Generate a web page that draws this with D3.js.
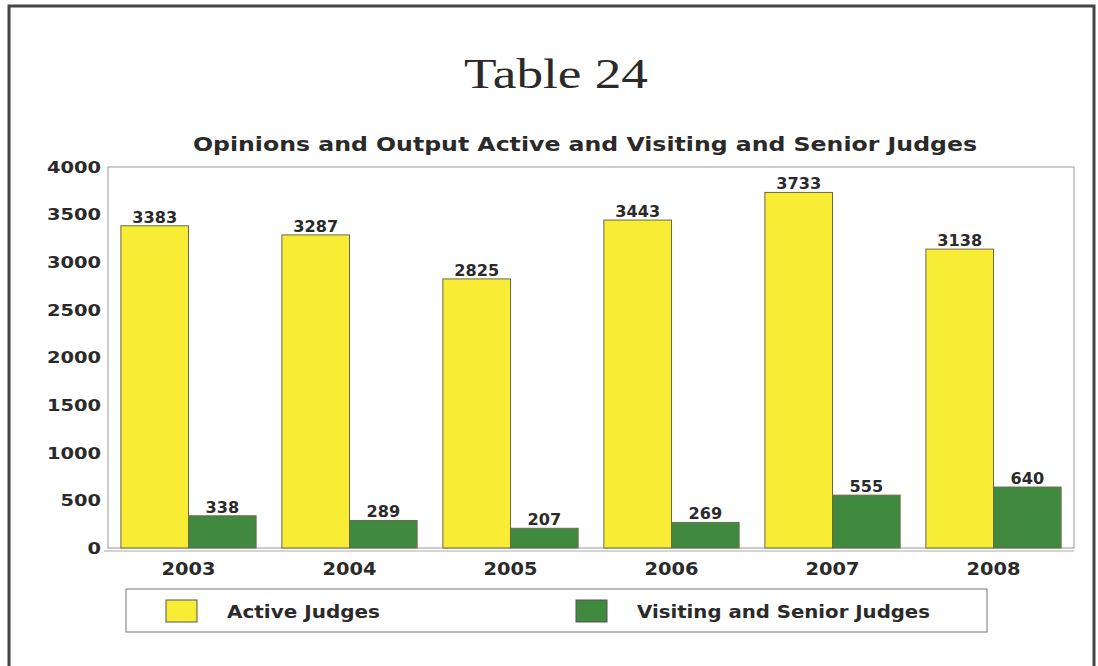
<!DOCTYPE html>
<html>
<head>
<meta charset="utf-8">
<script src="https://cdn.jsdelivr.net/npm/d3@7"></script>
<style>
  body { margin: 0; background: #fff; }
  svg text { font-family: "DejaVu Sans", "Liberation Sans", Arial, sans-serif; fill: #2a2a2a; }
</style>
</head>
<body>
<div id="chart"></div>
<script>
const years = ['2003', '2004', '2005', '2006', '2007', '2008'];
const activeJudges = [3383, 3287, 2825, 3443, 3733, 3138];
const visitingJudges = [338, 289, 207, 269, 555, 640];
const seriesNames = ['Active Judges', 'Visiting and Senior Judges'];
const seriesColors = ['#f8ec34', '#3f8a3f'];
const yTicks = [0, 500, 1000, 1500, 2000, 2500, 3000, 3500, 4000];

const width = 1098;
const height = 666;
const margin = {top: 167, right: 24, bottom: 118, left: 108};

// the scanned font is very wide, so text gets stretched to its measured width
const stretch = (sel, len) => sel.attr('textLength', len).attr('lengthAdjust', 'spacingAndGlyphs');

const svg = d3.select('#chart').append('svg')
    .attr('width', width).attr('height', height);

// outer frame
svg.append('rect')
    .attr('x', 9).attr('y', 6)
    .attr('width', 1085).attr('height', 680)
    .attr('fill', 'none').attr('stroke', '#444').attr('stroke-width', 3);

svg.append('text')
    .attr('x', 556).attr('y', 88)
    .attr('text-anchor', 'middle')
    .style('font-family', '"Liberation Serif", "Times New Roman", serif')
    .style('font-size', '43px')
    .call(stretch, 184)
    .text('Table 24');

svg.append('text')
    .attr('x', 585).attr('y', 151)
    .attr('text-anchor', 'middle')
    .style('font-size', '19px').style('font-weight', 'bold')
    .call(stretch, 784)
    .text('Opinions and Output Active and Visiting and Senior Judges');

const x0 = d3.scaleBand()
    .domain(years)
    .range([margin.left, width - margin.right])
    .paddingInner(0.16)
    .paddingOuter(0.08);

const x1 = d3.scaleBand()
    .domain([0, 1])
    .range([0, x0.bandwidth()]);

const y = d3.scaleLinear()
    .domain([0, 4000])
    .range([height - margin.bottom, margin.top]);

// plot frame
svg.append('rect')
    .attr('x', margin.left).attr('y', margin.top)
    .attr('width', width - margin.right - margin.left)
    .attr('height', y(0) - margin.top)
    .attr('fill', 'none').attr('stroke', '#999').attr('stroke-width', 1);

svg.append('line')
    .attr('x1', margin.left - 4).attr('x2', width - margin.right)
    .attr('y1', y(0) + 3).attr('y2', y(0) + 3)
    .attr('stroke', '#aaa').attr('stroke-width', 1);

// y axis labels
svg.append('g').selectAll('text').data(yTicks).join('text')
    .attr('x', 101).attr('y', (d) => y(d))
    .attr('dy', '0.36em')
    .attr('text-anchor', 'end')
    .style('font-size', '16px').style('font-weight', 'bold')
    .attr('textLength', (d) => String(d).length * 13.5)
    .attr('lengthAdjust', 'spacingAndGlyphs')
    .text((d) => d);

// x axis labels
svg.append('g').selectAll('text').data(years).join('text')
    .attr('x', (d) => x0(d) + x0.bandwidth() / 2)
    .attr('y', 575)
    .attr('text-anchor', 'middle')
    .style('font-size', '17px').style('font-weight', 'bold')
    .call(stretch, 54)
    .text((d) => d);

const rows = years.map((yr, i) => ({year: yr, values: [activeJudges[i], visitingJudges[i]]}));

const group = svg.append('g').selectAll('g').data(rows).join('g')
    .attr('transform', (d) => 'translate(' + x0(d.year) + ',0)');

group.selectAll('rect').data((d) => d.values).join('rect')
    .attr('x', (d, i) => x1(i))
    .attr('y', (d) => y(d))
    .attr('width', x1.bandwidth())
    .attr('height', (d) => y(0) - y(d))
    .attr('fill', (d, i) => seriesColors[i])
    .attr('stroke', '#6b6b4a').attr('stroke-width', 1);

group.selectAll('text').data((d) => d.values).join('text')
    .attr('x', (d, i) => x1(i) + x1.bandwidth() / 2)
    .attr('y', (d) => y(d) - 3)
    .attr('text-anchor', 'middle')
    .style('font-size', '15px').style('font-weight', 'bold')
    .attr('textLength', (d) => String(d).length * 11.2)
    .attr('lengthAdjust', 'spacingAndGlyphs')
    .text((d) => d);

// legend
const legend = svg.append('g');
legend.append('rect')
    .attr('x', 126).attr('y', 589)
    .attr('width', 861).attr('height', 43)
    .attr('fill', '#fff').attr('stroke', '#777').attr('stroke-width', 1);

const legendX = [166, 576];
const legendLen = [153, 293];
const item = legend.selectAll('g').data(seriesNames).join('g')
    .attr('transform', (d, i) => 'translate(' + legendX[i] + ',600)');
item.append('rect')
    .attr('width', 31).attr('height', 22)
    .attr('fill', (d, i) => seriesColors[i])
    .attr('stroke', '#555').attr('stroke-width', 1);
item.append('text')
    .attr('x', 61).attr('y', 18)
    .style('font-size', '17px').style('font-weight', 'bold')
    .attr('textLength', (d, i) => legendLen[i])
    .attr('lengthAdjust', 'spacingAndGlyphs')
    .text((d) => d);
</script>
</body>
</html>
